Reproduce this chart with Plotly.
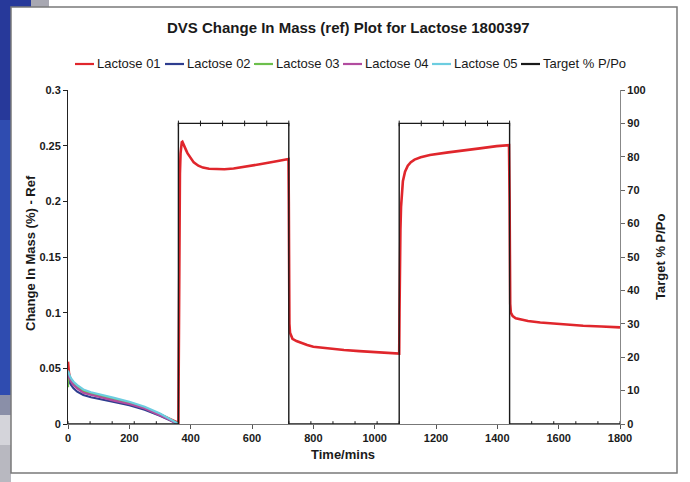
import plotly.graph_objects as go

# ---------------- data ----------------
series_names = ["Lactose 01", "Lactose 02", "Lactose 03", "Lactose 04", "Lactose 05", "Target % P/Po"]
series_colors = ["#e0262c", "#2e3d8f", "#6cbf4c", "#b24c9f", "#6ccde0", "#1a1a1a"]

time_early = [0, 1, 3, 6, 10, 18, 30, 50, 75, 100, 150, 200, 250, 300, 330, 350, 358]
mass_l1_early = [0.056, 0.050, 0.046, 0.042, 0.039, 0.036, 0.033, 0.029, 0.0268, 0.0255, 0.0215,
                 0.0185, 0.014, 0.0085, 0.0045, 0.002, 0.001]
mass_l2 = [0.042, 0.041, 0.039, 0.037, 0.035, 0.032, 0.029, 0.026, 0.024, 0.0228, 0.0198,
           0.0168, 0.0128, 0.0075, 0.0035, 0.0008, 0.0002]
mass_l3 = [0.033, 0.046, 0.044, 0.042, 0.040, 0.037, 0.034, 0.030, 0.0275, 0.026, 0.0225,
           0.019, 0.0145, 0.0088, 0.0045, 0.0012, 0.0004]
mass_l4 = [0.044, 0.044, 0.042, 0.040, 0.038, 0.035, 0.032, 0.028, 0.026, 0.0245, 0.021,
           0.018, 0.014, 0.0082, 0.004, 0.001, 0.0003]
mass_l5 = [0.048, 0.047, 0.045, 0.043, 0.041, 0.038, 0.035, 0.031, 0.0285, 0.027, 0.0235,
           0.020, 0.0155, 0.0095, 0.005, 0.0015, 0.0005]

time_l1_late = [360, 361, 362, 363.5, 365, 367, 369, 371, 373, 376, 380, 385, 390, 400, 410, 425, 440,
                460, 485, 510, 540, 580, 630, 680, 713, 719,
                720, 721, 722, 724, 727, 732, 745, 760, 780, 800, 850, 900, 950, 1000, 1040, 1078,
                1080, 1081, 1082, 1084, 1086, 1088, 1092, 1099, 1108, 1118, 1130, 1150, 1180, 1240,
                1289, 1343, 1398, 1420, 1438,
                1440, 1441, 1442, 1444, 1450, 1460, 1474, 1500, 1540, 1572, 1620, 1680, 1740, 1794, 1800]
mass_l1_late = [0.001, 0.05, 0.12, 0.19, 0.225, 0.243, 0.250, 0.2532, 0.2536, 0.252, 0.2495, 0.246,
                0.243, 0.2385, 0.235, 0.232, 0.2303,
                0.2293, 0.2288, 0.2288, 0.2295, 0.231, 0.2335, 0.236, 0.238, 0.238,
                0.20, 0.12, 0.09, 0.082, 0.079, 0.0765, 0.0745, 0.0728, 0.071, 0.0694, 0.0678, 0.0665,
                0.0655, 0.0645, 0.0638, 0.0632,
                0.0632, 0.10, 0.14, 0.175, 0.195, 0.2075, 0.218, 0.2267, 0.232, 0.2352, 0.2375, 0.2395,
                0.2416, 0.244, 0.246, 0.2476, 0.2496, 0.2500, 0.2505,
                0.20, 0.13, 0.108, 0.100, 0.097, 0.095, 0.094, 0.0925, 0.0912, 0.0904, 0.0893, 0.0883,
                0.0876, 0.0869, 0.0868]

time_l1 = time_early + time_l1_late
mass_l1 = mass_l1_early + mass_l1_late

target_time = [0, 72, 144, 216, 288, 360,
               360, 432, 504, 576, 648, 720,
               720, 792, 864, 936, 1008, 1080,
               1080, 1152, 1224, 1296, 1368, 1440,
               1440, 1512, 1584, 1656, 1728, 1800]
target_pct = [0, 0, 0, 0, 0, 0,
              90, 90, 90, 90, 90, 90,
              0, 0, 0, 0, 0, 0,
              90, 90, 90, 90, 90, 90,
              0, 0, 0, 0, 0, 0]

x_ticks = [0, 200, 400, 600, 800, 1000, 1200, 1400, 1600, 1800]
title_text = "DVS Change In Mass (ref) Plot for Lactose 1800397"
x_title = "Time/mins"
y_title = "Change In Mass (%) - Ref"
y2_title = "Target % P/Po"

# ---------------- layout constants (pixels) ----------------
W, H = 690, 482
ML, MR, MT, MB = 68, 70, 90, 58
PW, PH = W - ML - MR, H - MT - MB


def px(x):
    return (x - ML) / PW


def py(y):
    return (H - MB - y) / PH


FONT = "Liberation Sans, Arial, sans-serif"

fig = go.Figure()

fig.add_trace(go.Scatter(x=time_l1, y=mass_l1, mode="lines", name=series_names[0],
                         line=dict(color=series_colors[0], width=2.6)))
for name, col, vals in zip(series_names[1:5], series_colors[1:5], [mass_l2, mass_l3, mass_l4, mass_l5]):
    fig.add_trace(go.Scatter(x=time_early, y=vals, mode="lines", name=name,
                             line=dict(color=col, width=2.2)))
fig.add_trace(go.Scatter(x=target_time, y=target_pct, mode="lines+markers", name=series_names[5],
                         yaxis="y2", line=dict(color=series_colors[5], width=1.4),
                         marker=dict(symbol="line-ns", size=4,
                                     line=dict(color=series_colors[5], width=1))))

tickfont = dict(family=FONT, size=11, color="#1a1a1a", weight="bold")

fig.update_layout(
    width=W, height=H,
    margin=dict(l=ML, r=MR, t=MT, b=MB),
    paper_bgcolor="white", plot_bgcolor="white",
    showlegend=False,
    xaxis=dict(range=[0, 1800], tickvals=x_ticks, ticks="outside", ticklen=4,
               tickcolor="#555", showline=True, linecolor="#777", linewidth=1,
               showgrid=False, zeroline=False, tickfont=tickfont),
    yaxis=dict(range=[0, 0.3], dtick=0.05, ticks="outside", ticklen=4,
               tickcolor="#222", showline=True, linecolor="#222", linewidth=1,
               showgrid=False, zeroline=False, tickfont=tickfont),
    yaxis2=dict(range=[0, 100], dtick=10, overlaying="y", side="right",
                ticks="outside", ticklen=4, tickcolor="#666",
                showline=True, linecolor="#888", linewidth=1.2,
                showgrid=False, zeroline=False, tickfont=tickfont),
)

annotations = []
shapes = []

# title
annotations.append(dict(text=title_text, xref="paper", yref="paper", x=px(348), y=py(27),
                        xanchor="center", yanchor="middle", showarrow=False,
                        font=dict(family=FONT, size=15, color="#1a1a1a", weight="bold")))
# axis titles
annotations.append(dict(text=x_title, xref="paper", yref="paper", x=px(343), y=py(455),
                        xanchor="center", yanchor="middle", showarrow=False,
                        font=dict(family=FONT, size=13, color="#1a1a1a", weight="bold")))
annotations.append(dict(text=y_title, xref="paper", yref="paper", x=px(30), y=py(253),
                        xanchor="center", yanchor="middle", showarrow=False, textangle=-90,
                        font=dict(family=FONT, size=13, color="#1a1a1a", weight="bold")))
annotations.append(dict(text=y2_title, xref="paper", yref="paper", x=px(660), y=py(257),
                        xanchor="center", yanchor="middle", showarrow=False, textangle=-90,
                        font=dict(family=FONT, size=13, color="#1a1a1a", weight="bold")))

# custom legend
legend_line_x = [75, 165, 254, 343, 432, 521]
legend_y = 64
for name, col, lx in zip(series_names, series_colors, legend_line_x):
    shapes.append(dict(type="line", xref="paper", yref="paper", x0=px(lx), x1=px(lx + 19),
                       y0=py(legend_y), y1=py(legend_y), line=dict(color=col, width=2.2)))
    annotations.append(dict(text=name, xref="paper", yref="paper", x=px(lx + 20), y=py(legend_y),
                            xanchor="left", yanchor="middle", showarrow=False,
                            font=dict(family=FONT, size=13, color="#1a1a1a")))

# chart frame and background decoration
shapes.append(dict(type="rect", xref="paper", yref="paper", x0=px(0), x1=px(11), y0=py(0), y1=py(395),
                   fillcolor="#2f4cb0", line=dict(width=0), layer="below"))
shapes.append(dict(type="rect", xref="paper", yref="paper", x0=px(0), x1=px(11), y0=py(0), y1=py(120),
                   fillcolor="#27399a", line=dict(width=0), layer="below"))
shapes.append(dict(type="rect", xref="paper", yref="paper", x0=px(0), x1=px(11), y0=py(395), y1=py(415),
                   fillcolor="#8a8fa8", line=dict(width=0), layer="below"))
shapes.append(dict(type="rect", xref="paper", yref="paper", x0=px(0), x1=px(11), y0=py(415), y1=py(445),
                   fillcolor="#d4d4da", line=dict(width=0), layer="below"))
shapes.append(dict(type="rect", xref="paper", yref="paper", x0=px(0), x1=px(11), y0=py(445), y1=py(482),
                   fillcolor="#b8b8c0", line=dict(width=0), layer="below"))
shapes.append(dict(type="rect", xref="paper", yref="paper", x0=px(0), x1=px(31), y0=py(0), y1=py(7),
                   fillcolor="#27399a", line=dict(width=0), layer="below"))
shapes.append(dict(type="rect", xref="paper", yref="paper", x0=px(31), x1=px(49), y0=py(0), y1=py(7),
                   fillcolor="#a8a8b2", line=dict(width=0), layer="below"))
shapes.append(dict(type="rect", xref="paper", yref="paper", x0=px(11), x1=px(677), y0=py(7), y1=py(473),
                   fillcolor="rgba(0,0,0,0)", line=dict(color="#7a7a7a", width=1.5), layer="below"))

fig.update_layout(annotations=annotations, shapes=shapes)

fig.write_html("out.html")
